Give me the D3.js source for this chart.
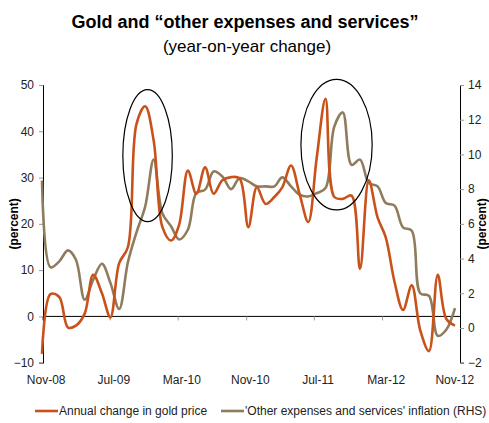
<!DOCTYPE html>
<html>
<head>
<meta charset="utf-8">
<script src="https://cdn.jsdelivr.net/npm/d3@7"></script>
<style>
  html, body { margin: 0; padding: 0; background: #fff; }
  svg { display: block; font-family: "Liberation Sans", Arial, sans-serif; }
</style>
</head>
<body>
<svg id="chart" width="489" height="423"></svg>
<script>
// Monthly observations, Nov-08 to Nov-12
const months = d3.timeMonth.range(new Date(2008, 10, 1), new Date(2012, 11, 1));

// Annual change in gold price (%, left axis)
const gold = [-8.1, 4.8, 4.2, -2.4, -2.0, 0.6, 9.0, 5.0, -0.2, 11.5,
              15.0, 41.5, 45.4, 38.0, 19.3, 16.4, 19.8, 31.5, 26.5, 32.2,
              26.5, 29.4, 30.1, 29.8, 19.3, 27.9, 24.3, 25.8, 27.9, 32.6,
              26.5, 20.4, 34.4, 47.0, 25.8, 25.4, 26.1, 10.3, 29.4, 21.4,
              17.1, 7.5, 1.4, 6.7, -3.0, -7.5, 9.0, -0.5, -2.0];

// 'Other expenses and services' inflation (%, right axis)
const other = [8.5, 3.5, 3.84, 4.47, 3.93, 1.63, 2.78, 3.7, 2.6, 1.09,
               3.8, 5.5, 7.0, 9.7, 6.6, 5.85, 5.1, 5.66, 7.78, 7.97,
               9.02, 8.73, 8.0, 8.64, 8.45, 8.16, 8.16, 8.16, 8.68, 8.16,
               7.68, 7.58, 7.77, 8.06, 11.6, 12.42, 9.4, 9.7, 8.35, 8.16,
               7.2, 7.05, 5.8, 5.6, 2.0, 1.85, -0.45, -0.1, 1.15];

const leftTicks = [-10, 0, 10, 20, 30, 40, 50];
const rightTicks = [-2, 0, 2, 4, 6, 8, 10, 12, 14];
const xTickLabels = ["Nov-08", "Jul-09", "Mar-10", "Nov-10", "Jul-11", "Mar-12", "Nov-12"];
const seriesNames = ["Annual change in gold price", "'Other expenses and services' inflation (RHS)"];
const colors = ["#c9521b", "#8e7c5c"];

const svg = d3.select("#chart");

const plotLeft = 43, plotRight = 460, plotTop = 85, plotBottom = 362.7;

const yL = d3.scaleLinear().domain([-10, 50]).range([plotBottom, plotTop]);
const yR = d3.scaleLinear().domain([-2, 14]).range([plotBottom, plotTop]);
const xData = d3.scaleTime().domain([months[0], months[months.length - 1]]).range([42, 455]);
const xAxisScale = d3.scaleTime()
  .domain([new Date(2008, 10, 1), new Date(2012, 11, 1)])
  .range([42, 459]);

// Titles
svg.append("text")
  .attr("x", 245).attr("y", 28)
  .attr("text-anchor", "middle")
  .style("font-weight", "bold").style("font-size", "18px")
  .text("Gold and \u201cother expenses and services\u201d");
svg.append("text")
  .attr("x", 247).attr("y", 52)
  .attr("text-anchor", "middle")
  .style("font-size", "17px")
  .text("(year-on-year change)");

// Left axis
const gL = svg.append("g").attr("transform", `translate(${plotLeft},0)`)
  .call(d3.axisLeft(yL).tickValues(leftTicks).tickSize(4).tickPadding(5));
gL.select(".domain").attr("stroke", "#000").attr("stroke-width", 1);
gL.selectAll(".tick line").attr("stroke", "#999");
gL.selectAll(".tick text").style("font-size", "12px").attr("fill", "#222")
  .style("font-family", "Liberation Sans, Arial, sans-serif");

// Right axis
const gR = svg.append("g").attr("transform", `translate(${plotRight},0)`)
  .call(d3.axisRight(yR).tickValues(rightTicks).tickSize(4).tickPadding(4));
gR.select(".domain").attr("stroke", "#000").attr("stroke-width", 1);
gR.selectAll(".tick line").attr("stroke", "#999");
gR.selectAll(".tick text").style("font-size", "12px").attr("fill", "#222")
  .style("font-family", "Liberation Sans, Arial, sans-serif");

// Axis titles
svg.append("text")
  .attr("transform", `translate(18,${(plotTop + plotBottom) / 2}) rotate(-90)`)
  .attr("text-anchor", "middle")
  .style("font-size", "12px").style("font-weight", "bold")
  .text("(percent)");
svg.append("text")
  .attr("transform", `translate(486,${(plotTop + plotBottom) / 2}) rotate(-90)`)
  .attr("text-anchor", "middle")
  .style("font-size", "12px").style("font-weight", "bold")
  .text("(percent)");

// Horizontal axis along zero with tick marks every 8 months
const tickDates = d3.range(xTickLabels.length).map(k => d3.timeMonth.offset(new Date(2008, 10, 1), 8 * k));
const gX = svg.append("g").attr("transform", `translate(0,${yL(0)})`)
  .call(d3.axisBottom(xAxisScale).tickValues(tickDates).tickSize(4).tickFormat(() => ""));
gX.select(".domain").attr("d", `M${plotLeft},0H${plotRight}`).attr("stroke", "#000");
gX.selectAll(".tick line").attr("stroke", "#999");

// Month labels along the bottom, centred within each month slot
svg.append("g").selectAll("text")
  .data(tickDates)
  .join("text")
  .attr("x", d => xAxisScale(d3.timeDay.offset(d, 15)))
  .attr("y", 384)
  .attr("text-anchor", "middle")
  .style("font-size", "12px").attr("fill", "#222")
  .text((d, i) => xTickLabels[i]);

// Series lines
const lineL = d3.line().x((d, i) => xData(months[i])).y(d => yL(d)).curve(d3.curveCatmullRom.alpha(0.5));
const lineR = d3.line().x((d, i) => xData(months[i])).y(d => yR(d)).curve(d3.curveCatmullRom.alpha(0.5));

svg.append("path").datum(other)
  .attr("d", lineR).attr("fill", "none")
  .attr("stroke", colors[1]).attr("stroke-width", 2.6).attr("stroke-linejoin", "round");
svg.append("path").datum(gold)
  .attr("d", lineL).attr("fill", "none")
  .attr("stroke", colors[0]).attr("stroke-width", 2.6).attr("stroke-linejoin", "round");

// Highlight ellipses around the two peaks (date span, left-axis value span)
const highlights = [
  { from: new Date(2009, 7, 14), to: new Date(2010, 1, 5), lo: 20.5, hi: 49 },
  { from: new Date(2011, 4, 6), to: new Date(2012, 0, 13), lo: 23, hi: 51.2 }
];
svg.append("g").selectAll("ellipse")
  .data(highlights)
  .join("ellipse")
  .attr("cx", d => (xData(d.from) + xData(d.to)) / 2)
  .attr("cy", d => (yL(d.lo) + yL(d.hi)) / 2)
  .attr("rx", d => (xData(d.to) - xData(d.from)) / 2)
  .attr("ry", d => (yL(d.lo) - yL(d.hi)) / 2)
  .attr("fill", "none").attr("stroke", "#000").attr("stroke-width", 1.2);

// Legend
const legend = svg.append("g").attr("transform", "translate(0,411)");
const legendX = [35, 221];
seriesNames.forEach((name, i) => {
  legend.append("line")
    .attr("x1", legendX[i]).attr("x2", legendX[i] + 23)
    .attr("y1", 0).attr("y2", 0)
    .attr("stroke", colors[i]).attr("stroke-width", 2.6);
  legend.append("text")
    .attr("x", legendX[i] + 24).attr("y", 4)
    .style("font-size", "12px").attr("fill", "#222")
    .text(name);
});
</script>
</body>
</html>
